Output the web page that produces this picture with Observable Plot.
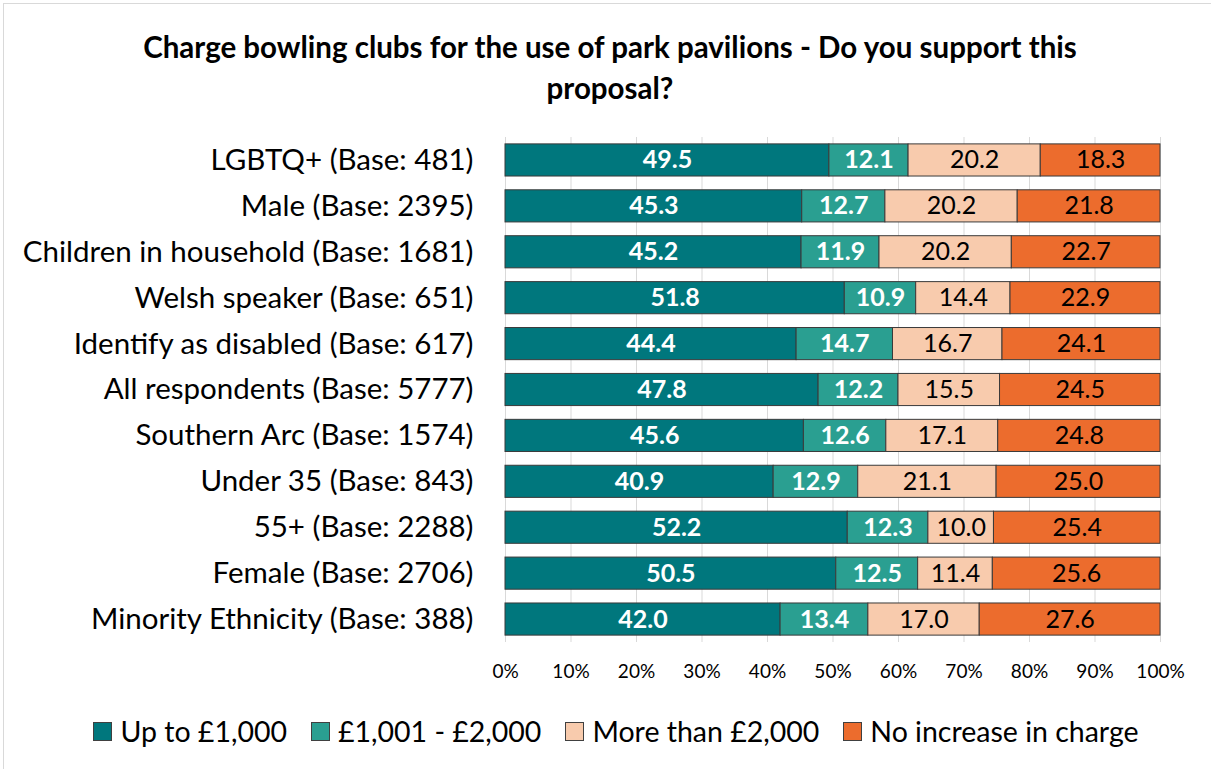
<!DOCTYPE html>
<html><head><meta charset="utf-8">
<script src="https://cdn.jsdelivr.net/npm/d3@7"></script>
<script src="https://cdn.jsdelivr.net/npm/@observablehq/plot@0.6"></script>
<style>
body{margin:0;background:#fff;font-family:Lato,"Open Sans",sans-serif;}
#frame{position:absolute;left:3px;top:3px;width:1220px;height:780px;border:1px solid #d9d9d9;box-sizing:border-box;}
#title{position:absolute;left:0;top:26px;width:1220px;text-align:center;font-weight:bold;font-size:29.5px;line-height:41px;color:#000;}
#chart{position:absolute;left:0;top:110px;}
#legend{position:absolute;left:0;top:714px;width:1232px;display:flex;justify-content:center;gap:24px;font-size:28.5px;color:#000;}
#legend span.item{display:flex;align-items:center;}
#legend span.sw{display:inline-block;width:17px;height:17px;border:1px solid #404040;margin-right:8px;}
</style></head>
<body>
<div id="frame"></div>
<div id="title">Charge bowling clubs for the use of park pavilions - Do you support this<br>proposal?</div>
<div id="chart"></div>
<div id="legend"></div>
<script>
const categories = ["LGBTQ+ (Base: 481)","Male (Base: 2395)","Children in household (Base: 1681)","Welsh speaker (Base: 651)","Identify as disabled (Base: 617)","All respondents (Base: 5777)","Southern Arc (Base: 1574)","Under 35 (Base: 843)","55+ (Base: 2288)","Female (Base: 2706)","Minority Ethnicity (Base: 388)"];
const series = ["Up to £1,000","£1,001 - £2,000","More than £2,000","No increase in charge"];
const upTo1000 = [49.5,45.3,45.2,51.8,44.4,47.8,45.6,40.9,52.2,50.5,42.0];
const from1001 = [12.1,12.7,11.9,10.9,14.7,12.2,12.6,12.9,12.3,12.5,13.4];
const moreThan2000 = [20.2,20.2,20.2,14.4,16.7,15.5,17.1,21.1,10.0,11.4,17.0];
const noIncrease = [18.3,21.8,22.7,22.9,24.1,24.5,24.8,25.0,25.4,25.6,27.6];
const colors = ["#00777D","#2A9F91","#F8CBAD","#EC6C2D"];
const xTicks = [0,0.1,0.2,0.3,0.4,0.5,0.6,0.7,0.8,0.9,1];

const cols = [upTo1000, from1001, moreThan2000, noIncrease];
const data = [];
categories.forEach((c,i)=>series.forEach((s,j)=>data.push({cat:c, series:s, value:cols[j][i], idx:j})));

const stackOpts = {x:"value", y:"cat", z:"series", offset:"normalize", order:series};
const fmt = d=>d.value.toFixed(1);
const chart = Plot.plot({
  width:1211, height:580,
  marginLeft:505, marginRight:51, marginTop:27, marginBottom:48,
  style:{fontFamily:"Lato, 'Open Sans', sans-serif", background:"transparent"},
  x:{domain:[0,1], label:null},
  y:{domain:categories, paddingInner:0.3, paddingOuter:0.15, round:false, label:null},
  color:{domain:series, range:colors},
  marks:[
    Plot.ruleX(xTicks, {stroke:"#d9d9d9", strokeWidth:1}),
    Plot.barX(data, Plot.stackX({...stackOpts, fill:"series", stroke:"#3a3a3a", strokeWidth:1})),
    Plot.text(data, Plot.stackX({...stackOpts, text:d=>d.idx<2?fmt(d):"", fill:"white", fontWeight:"bold", fontSize:25})),
    Plot.text(data, Plot.stackX({...stackOpts, text:d=>d.idx>=2?fmt(d):"", fill:"black", fontSize:25})),
    Plot.axisY({tickSize:0, tickPadding:32, fontSize:29.5, label:null}),
    Plot.axisX({ticks:xTicks, tickFormat:d=>Math.round(d*100)+"%", tickSize:0, tickPadding:22, fontSize:19, label:null})
  ]
});
document.getElementById("chart").appendChild(chart);

const leg = document.getElementById("legend");
series.forEach((s,j)=>{
  const it = document.createElement("span"); it.className="item";
  const sw = document.createElement("span"); sw.className="sw"; sw.style.background=colors[j];
  it.appendChild(sw); it.appendChild(document.createTextNode(s));
  leg.appendChild(it);
});
</script>
</body></html>
